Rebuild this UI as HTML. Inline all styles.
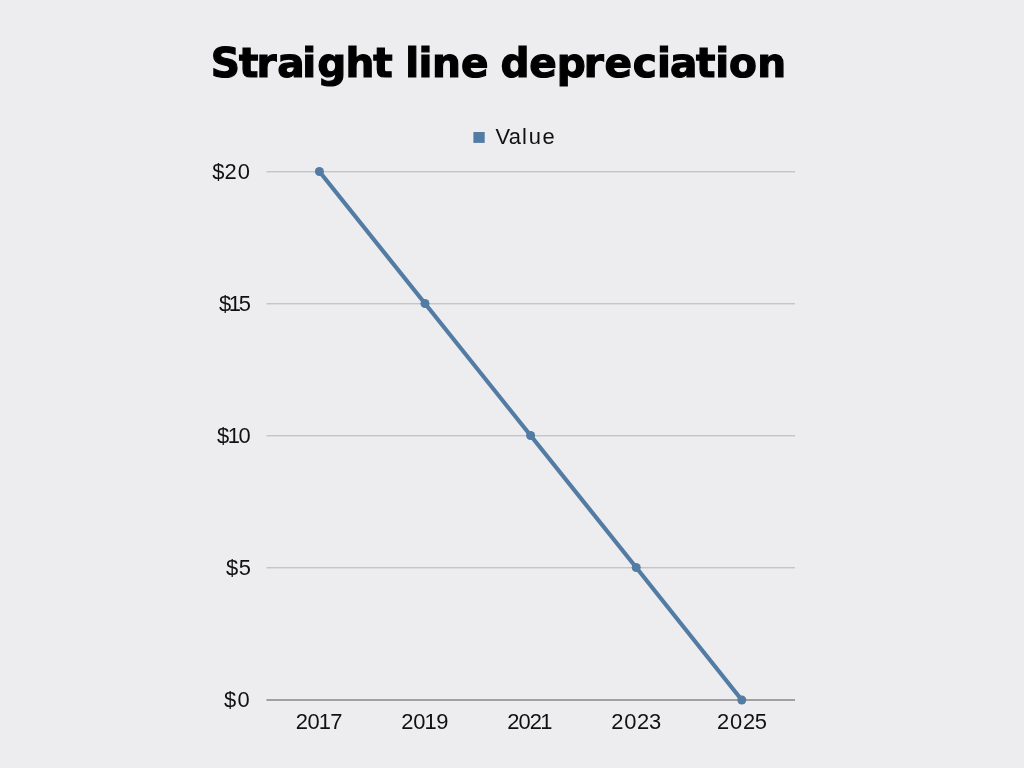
<!DOCTYPE html>
<html lang="en">
<head>
<meta charset="utf-8">
<title>Straight line depreciation</title>
<style>
html,body{margin:0;padding:0;background:#ededef;}
body{width:1024px;height:768px;overflow:hidden;font-family:"Liberation Sans",sans-serif;}
svg{display:block;position:absolute;left:0;top:0;}
.t{font-family:"DejaVu Sans","Liberation Sans",sans-serif;font-weight:700;font-size:40.2px;fill:#000;stroke:#000;stroke-width:1.2px;stroke-linejoin:miter;}
.l{font-family:"Liberation Sans",sans-serif;font-size:21.2px;fill:#111;}
</style>
</head>
<body>
<svg width="1024" height="768" viewBox="0 0 1024 768">
  <rect width="1024" height="768" fill="#ededef"/>
  <!-- title -->
  <text class="t" transform="scale(1.01,1)" y="77" x="208.70 236.67 254.08 274.54 299.35 314.14 342.19 369.62">Straight</text>
  <text class="t" transform="scale(1.01,1)" y="77" x="401.18 414.30 427.80 456.45">line</text>
  <text class="t" transform="scale(1.01,1)" y="77" x="495.43 524.05 551.21 578.10 598.57 626.54 650.39 663.28 689.21 708.26 721.74 749.76">depreciation</text>
  <!-- legend -->
  <rect x="473.4" y="132" width="11.3" height="10.9" fill="#537ca4"/>
  <!-- gridlines -->
  <g stroke="#b4b4b6" stroke-width="1">
    <line x1="266.5" y1="171.8" x2="795" y2="171.8"/>
    <line x1="266.5" y1="303.8" x2="795" y2="303.8"/>
    <line x1="266.5" y1="435.8" x2="795" y2="435.8"/>
    <line x1="266.5" y1="567.8" x2="795" y2="567.8"/>
  </g>
  <line x1="266.5" y1="700" x2="795" y2="700" stroke="#a0a0a0" stroke-width="2"/>
  <!-- labels -->
  <text class="l" transform="scale(1.035,1)" y="729.0" x="285.64 297.05 307.90 319.08">2017</text>
  <text class="l" transform="scale(1.035,1)" y="729.0" x="387.78 399.23 410.14 421.45">2019</text>
  <text class="l" transform="scale(1.035,1)" y="729.0" x="490.21 501.03 511.85 521.88">2021</text>
  <text class="l" transform="scale(1.035,1)" y="729.0" x="590.57 603.13 615.50 626.97">2023</text>
  <text class="l" transform="scale(1.035,1)" y="729.0" x="692.76 705.42 717.79 729.26">2025</text>
  <text class="l" transform="scale(1.035,1)" y="178.6" x="205.11 217.04 229.65">$20</text>
  <text class="l" transform="scale(1.035,1)" y="310.6" x="211.49 221.05 230.68">$15</text>
  <text class="l" transform="scale(1.035,1)" y="442.6" x="209.66 220.00 230.43">$10</text>
  <text class="l" transform="scale(1.035,1)" y="574.6" x="218.30 230.63">$5</text>
  <text class="l" transform="scale(1.035,1)" y="707.0" x="216.46 229.45">$0</text>
  <text class="l" transform="scale(1.035,1)" y="143.9" x="478.70 491.65 504.43 510.77 524.20">Value</text>
  <!-- series -->
  <polyline points="319.4,171.5 425,303.5 530.6,435.5 636.2,567.5 741.8,700" fill="none" stroke="#537ca4" stroke-width="4.2" stroke-linejoin="round" stroke-linecap="round"/>
  <g fill="#537ca4">
    <circle cx="319.4" cy="171.5" r="4.5"/>
    <circle cx="425" cy="303.5" r="4.5"/>
    <circle cx="530.6" cy="435.5" r="4.5"/>
    <circle cx="636.2" cy="567.5" r="4.5"/>
    <circle cx="741.8" cy="700" r="4.5"/>
  </g>
</svg>
</body>
</html>
